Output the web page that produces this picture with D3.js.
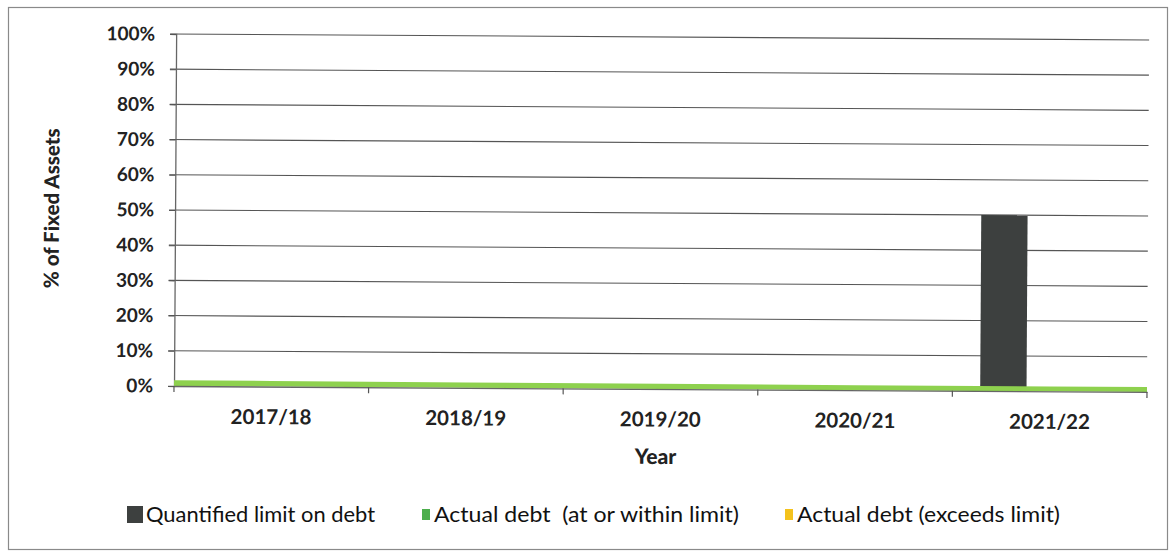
<!DOCTYPE html>
<html><head><meta charset="utf-8">
<script src="https://cdn.jsdelivr.net/npm/d3@7"></script>
<style>html,body{margin:0;padding:0;background:#fff;}svg{display:block;}</style>
</head><body>
<svg id="c" width="1173" height="551"></svg>
<script>
const categories = ["2017/18","2018/19","2019/20","2020/21","2021/22"];
const limitValues = [null,null,null,null,50];
const actualWithin = [1.6,1.5,1.5,1.4,1.4];
const actualExceeds = [null,null,null,null,null];
const yTicks = [0,10,20,30,40,50,60,70,80,90,100];
const seriesNames = ["Quantified limit on debt","Actual debt  (at or within limit)","Actual debt (exceeds limit)"];
const colors = {limit:"#3d403f", within:"#8ed14e", exceeds:"#f4c21c", withinLegend:"#4cae4c"};

const svg = d3.select("#c");
svg.append("rect").attr("x",8.5).attr("y",7.5).attr("width",1159).attr("height",542)
  .attr("fill","#fff").attr("stroke","#8a8a8a").attr("stroke-width",1.2);

const FONT = "Lato, 'Open Sans', sans-serif";
const L=174, R=1147, T=34, B=386;
const g = svg.append("g").attr("transform",`rotate(0.35 ${L} ${B})`);
const x = d3.scaleBand().domain(categories).range([L,R]);
const xs = d3.scaleBand().domain([0,1,2]).range([0,x.bandwidth()]).paddingOuter(0.6).paddingInner(0);
const y = d3.scaleLinear().domain([0,100]).range([B,T]);

// gridlines
g.append("g").selectAll("line").data(yTicks.filter(d=>d>0)).join("line")
  .attr("x1",L-6).attr("x2",R).attr("y1",d=>y(d)).attr("y2",d=>y(d))
  .attr("stroke","#555").attr("stroke-width",1.1);

// y axis
const yAxis = d3.axisLeft(y).tickValues(yTicks).tickFormat(d=>d+"%").tickSize(6).tickPadding(15);
const ya = g.append("g").attr("transform",`translate(${L},0)`).call(yAxis);
ya.select(".domain").attr("stroke","#666").attr("stroke-width",1.3);
ya.selectAll(".tick line").attr("stroke","#555");
ya.selectAll("text").attr("font-family",FONT).attr("font-weight","bold")
  .attr("font-size",19).attr("fill","#222");

// bars
g.append("g").selectAll("rect").data(categories.map((c,i)=>({c,v:limitValues[i]})).filter(d=>d.v!=null)).join("rect")
  .attr("x",d=>x(d.c)+xs(0)).attr("width",xs.bandwidth())
  .attr("y",d=>y(d.v)).attr("height",d=>y(0)-y(d.v)).attr("fill",colors.limit);

// green area (actual within limit)
const pts = categories.map((c,i)=>({x:x(c)+x.bandwidth()/2, v:actualWithin[i]}));
const full = [{x:L,v:actualWithin[0]},...pts,{x:R,v:actualWithin[actualWithin.length-1]}];
g.append("path").datum(full)
  .attr("d",d3.area().x(d=>d.x).y0(y(0)).y1(d=>y(d.v)))
  .attr("fill",colors.within);

// x axis
const xAxis = d3.axisBottom(x).tickSize(0).tickPadding(23);
const xa = g.append("g").attr("transform",`translate(0,${B})`).call(xAxis);
xa.select(".domain").attr("stroke","#666").attr("stroke-width",1.3);
xa.selectAll("text").attr("font-family",FONT).attr("font-weight","bold")
  .attr("font-size",20.5).attr("fill","#222");
g.append("g").selectAll("line").data(d3.range(categories.length+1)).join("line")
  .attr("x1",i=>L+i*x.step()).attr("x2",i=>L+i*x.step())
  .attr("y1",B).attr("y2",B+6).attr("stroke","#555").attr("stroke-width",1.2);

// axis titles
g.append("text").attr("x",656).attr("y",461).attr("text-anchor","middle")
  .attr("font-family",FONT).attr("font-weight","900").attr("font-size",21)
  .attr("fill","#222").text("Year");
g.append("text").attr("transform","translate(58,209) rotate(-90)").attr("text-anchor","middle")
  .attr("font-family",FONT).attr("font-weight","900").attr("font-size",20.5)
  .attr("fill","#222").text("% of  Fixed Assets");

// legend
const legendX = [127, 422, 785];
const legendCol = [colors.limit, colors.withinLegend, colors.exceeds];
const lg = svg.append("g").selectAll("g").data(seriesNames).join("g")
  .attr("transform",(d,i)=>`translate(${legendX[i]},515)`);
lg.append("rect").attr("x",0).attr("y",(d,i)=>i===0?-9:-6)
  .attr("width",(d,i)=>i===0?16:8).attr("height",(d,i)=>i===0?17:11).attr("fill",(d,i)=>legendCol[i]);
lg.append("text").attr("x",(d,i)=>i===0?19:12).attr("y",7)
  .attr("font-family",FONT).attr("font-size",22).attr("fill","#111")
  .attr("xml:space","preserve").style("white-space","pre")
  .attr("textLength",(d,i)=>[229,305,263][i]).attr("lengthAdjust","spacingAndGlyphs")
  .text(d=>d);
</script>
</body></html>
